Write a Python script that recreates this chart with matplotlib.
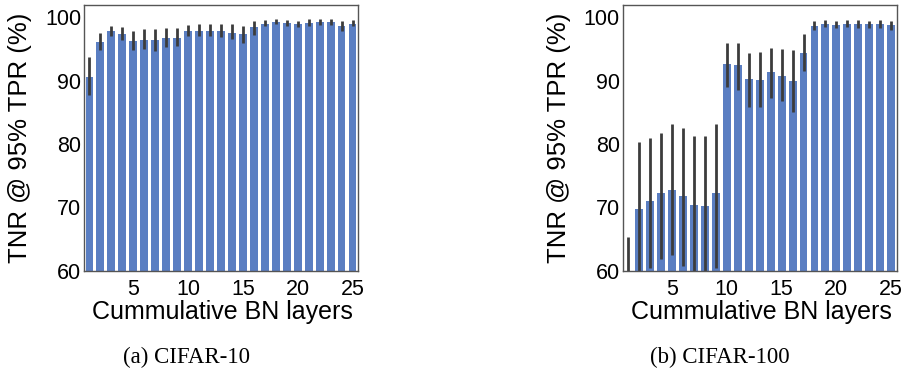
import numpy as np
import matplotlib
matplotlib.use("Agg")
import matplotlib.pyplot as plt

# Capas BN acumuladas (1..25)
layers = np.arange(1, 26)

# CIFAR-10: media y limites del intervalo
c10_mean = [90.6, 96.1, 97.8, 97.4, 96.2, 96.5, 96.5, 96.8, 96.8, 97.8,
            97.9, 97.9, 97.9, 97.6, 97.3, 98.4, 99.0, 99.2, 99.1, 98.9,
            99.1, 99.2, 99.2, 98.7, 99.0]
c10_low = [87.8, 94.8, 97.1, 96.5, 94.8, 95.0, 94.7, 95.3, 95.4, 97.1,
           97.1, 97.1, 96.9, 96.6, 95.9, 97.2, 98.6, 98.9, 98.7, 98.5,
           98.7, 98.8, 98.8, 97.9, 98.6]
c10_high = [93.7, 97.5, 98.7, 98.5, 97.9, 98.1, 98.1, 98.3, 98.3, 98.8,
            98.9, 98.9, 98.9, 98.9, 98.6, 99.4, 99.6, 99.7, 99.6, 99.5,
            99.7, 99.7, 99.7, 99.5, 99.6]

# CIFAR-100
c100_mean = [52.0, 69.8, 71.0, 72.3, 72.8, 71.8, 70.4, 70.2, 72.3, 92.6,
             92.4, 90.2, 90.1, 91.3, 90.8, 89.9, 94.4, 98.6, 98.9, 98.8,
             99.0, 98.9, 98.9, 98.9, 98.8]
c100_low = [40.0, 59.0, 60.4, 61.8, 62.4, 60.7, 59.0, 59.0, 60.5, 89.0,
            88.6, 85.8, 85.8, 87.3, 86.8, 85.0, 91.5, 98.0, 98.5, 98.3,
            98.5, 98.3, 98.3, 98.3, 98.0]
c100_high = [65.3, 80.3, 80.9, 81.8, 83.1, 82.5, 81.2, 81.3, 83.1, 95.9,
             95.9, 94.3, 94.5, 95.2, 95.0, 94.9, 97.3, 99.4, 99.6, 99.4,
             99.6, 99.6, 99.5, 99.6, 99.5]

captions = ["(a) CIFAR-10", "(b) CIFAR-100"]

plt.rcParams["font.family"] = ["Liberation Sans", "DejaVu Sans"]

fig = plt.figure(figsize=(9.04, 3.77), dpi=100)
ax1 = fig.add_axes([0.0929, 0.282, 0.3031, 0.7056])
ax2 = fig.add_axes([0.6888, 0.282, 0.3031, 0.7056])

datos = [(ax1, c10_mean, c10_low, c10_high),
         (ax2, c100_mean, c100_low, c100_high)]

for ax, m, lo, hi in datos:
    m = np.array(m)
    err = [m - np.array(lo), np.array(hi) - m]
    ax.bar(layers, m, width=0.72, color="#5a7ec2", zorder=1)
    ax.errorbar(layers, m, yerr=err, fmt="none", ecolor="#3c3c3c",
                elinewidth=2.0, capsize=0, zorder=2)
    ax.set_xlim(0.5, 25.5)
    ax.set_ylim(60, 102)
    ax.set_xticks([5, 10, 15, 20, 25])
    ax.set_yticks([60, 70, 80, 90, 100])
    ax.tick_params(axis="x", length=0, labelsize=15.5, pad=6)
    ax.tick_params(axis="y", length=0, labelsize=15.5, pad=2)
    ax.set_xlabel("Cummulative BN layers", fontsize=18)
    ax.set_ylabel("TNR @ 95% TPR (%)", fontsize=18.5)
    ax.xaxis.set_label_coords(0.505, -0.11)
    ax.yaxis.set_label_coords(-0.19, 0.5)
    for s in ax.spines.values():
        s.set_color("#555555")
        s.set_linewidth(1.0)

fig.text(187 / 904, 1 - 357 / 377, captions[0], ha="center", va="center",
         fontsize=16.5, family="Liberation Serif")
fig.text(720 / 904, 1 - 357 / 377, captions[1], ha="center", va="center",
         fontsize=16.5, family="Liberation Serif")

fig.savefig("out.png", dpi=100)
